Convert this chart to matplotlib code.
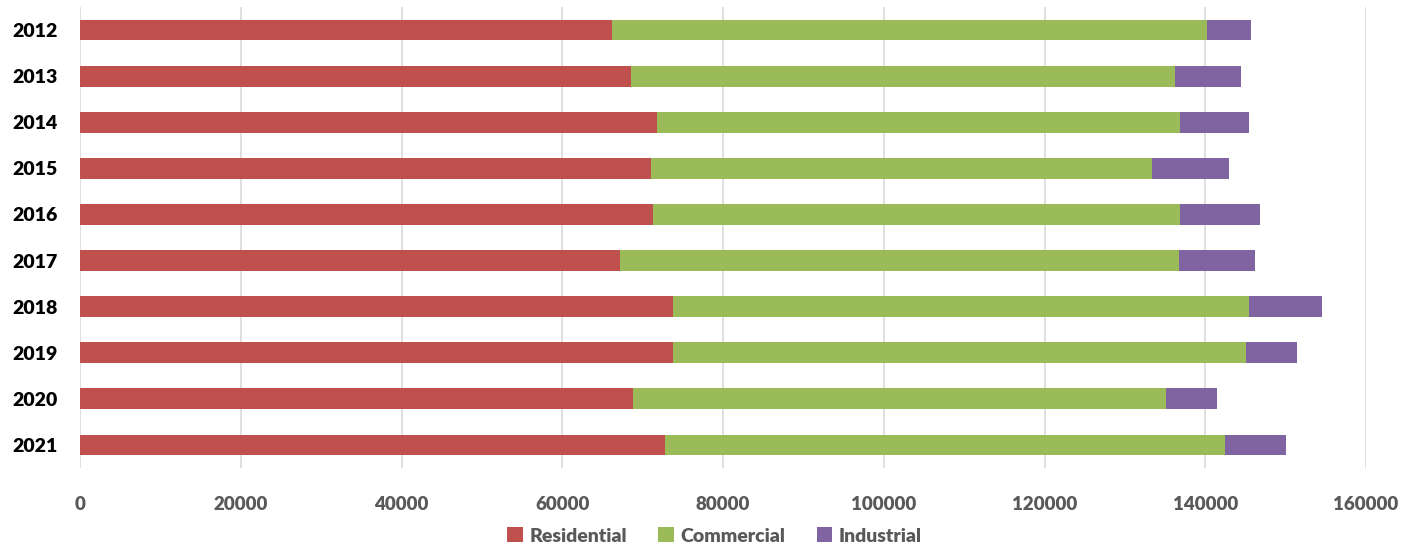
import matplotlib
matplotlib.use("Agg")
import matplotlib.pyplot as plt
import numpy as np

years = ["2012", "2013", "2014", "2015", "2016", "2017", "2018", "2019", "2020", "2021"]
residential = [66200, 68600, 71850, 71000, 71300, 67200, 73800, 73800, 68800, 72800]
commercial = [74000, 67600, 65050, 62400, 65600, 69500, 71700, 71300, 66300, 69700]
industrial = [5500, 8200, 8500, 9600, 9900, 9500, 9000, 6300, 6300, 7500]
xticks = [0, 20000, 40000, 60000, 80000, 100000, 120000, 140000, 160000]

plt.rcParams['font.family'] = ['Lato', 'DejaVu Sans']

fig = plt.figure(figsize=(14.07, 5.48), dpi=100)
ax = fig.add_axes([80/1407, 1-468/548, (1366-80)/1407, (468-7)/548])

y = np.arange(len(years))
res = np.array(residential)
com = np.array(commercial)
ind = np.array(industrial)
h = 0.45
ax.barh(y, res, height=h, color='#C0504D', label='Residential', zorder=3)
ax.barh(y, com, left=res, height=h, color='#9BBB59', label='Commercial', zorder=3)
ax.barh(y, ind, left=res+com, height=h, color='#8064A2', label='Industrial', zorder=3)

ax.set_ylim(len(years)-0.5, -0.5)
ax.set_xlim(0, 160000)
ax.set_yticks(y)
ax.set_yticklabels(years, fontsize=14, fontweight='heavy', color='black')
ax.set_xticks(xticks)
ax.set_xticklabels([str(v) for v in xticks], fontsize=13.5, fontweight='heavy', color='#595959')
ax.tick_params(axis='both', length=0)
ax.tick_params(axis='x', pad=20)
ax.tick_params(axis='y', pad=16)
ax.grid(axis='x', color='#D9D9D9', linewidth=1.2, zorder=0)
for s in ['top', 'right', 'bottom', 'left']:
    ax.spines[s].set_visible(False)

leg = fig.legend(loc='center', bbox_to_anchor=(0.508, 0.022), ncol=3, frameon=False,
                 handlelength=0.8, handleheight=0.8, handletextpad=0.35, columnspacing=1.6,
                 prop={'size': 14, 'weight': 'heavy'})
for t in leg.get_texts():
    t.set_color('#595959')

fig.savefig('out.png', dpi=100)
